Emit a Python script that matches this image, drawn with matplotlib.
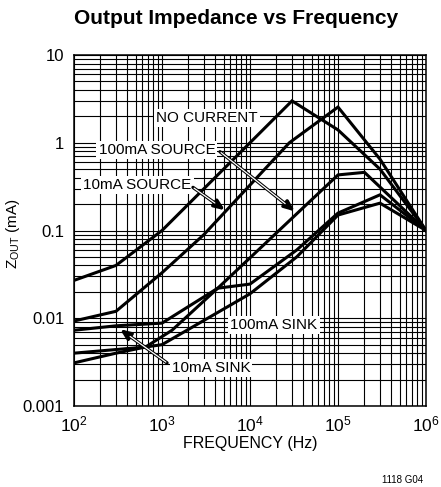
import matplotlib
matplotlib.use("Agg")
import matplotlib.pyplot as plt
from matplotlib import font_manager

# pick a narrow sans font if there is one
names = {f.name for f in font_manager.fontManager.ttflist}
font = "Liberation Sans Narrow" if "Liberation Sans Narrow" in names else "Liberation Sans"
plt.rcParams["font.family"] = [font, "DejaVu Sans"]
plt.rcParams["mathtext.fontset"] = "custom"
plt.rcParams["mathtext.rm"] = font
plt.rcParams["mathtext.it"] = font
plt.rcParams["mathtext.bf"] = font + ":bold"

# data (frequency in Hz, impedance)
freq_no_current = [100, 300, 1000, 30000, 100000, 300000, 1000000]
z_no_current = [0.027, 0.040, 0.10, 3.0, 1.4, 0.5, 0.1]

freq_10ma_source = [100, 300, 1000, 3000, 28000, 100000, 300000, 1000000]
z_10ma_source = [0.0093, 0.012, 0.033, 0.09, 1.0, 2.55, 0.65, 0.1]

freq_100ma_source = [100, 300, 650, 1300, 4300, 100000, 200000, 1000000]
z_100ma_source = [0.004, 0.0044, 0.0047, 0.0073, 0.022, 0.43, 0.46, 0.1]

freq_10ma_sink = [100, 300, 1000, 4300, 10000, 34000, 100000, 300000, 1000000]
z_10ma_sink = [0.0073, 0.0082, 0.0088, 0.022, 0.0245, 0.060, 0.158, 0.255, 0.1]

freq_100ma_sink = [100, 300, 650, 1000, 10000, 34000, 100000, 300000, 1000000]
z_100ma_sink = [0.0031, 0.004, 0.0047, 0.005, 0.019, 0.050, 0.15, 0.205, 0.1]

x_ticks = [1e2, 1e3, 1e4, 1e5, 1e6]
x_tick_labels = [r"$10^{2}$", r"$10^{3}$", r"$10^{4}$", r"$10^{5}$", r"$10^{6}$"]
y_ticks = [0.001, 0.01, 0.1, 1, 10]
y_tick_labels = ["0.001", "0.01", "0.1", "1", "10"]

fig = plt.figure(figsize=(4.41, 4.87), dpi=100)
ax = fig.add_axes([74 / 441, 1 - 406 / 487, 352 / 441, 351 / 487])

ax.set_xscale("log")
ax.set_yscale("log")
ax.set_xlim(1e2, 1e6)
ax.set_ylim(1e-3, 10)

ax.grid(True, which="both", color="black", lw=0.8)
ax.set_axisbelow(True)
for s in ax.spines.values():
    s.set_linewidth(1.1)

curves = [
    (freq_no_current, z_no_current),
    (freq_10ma_source, z_10ma_source),
    (freq_100ma_source, z_100ma_source),
    (freq_10ma_sink, z_10ma_sink),
    (freq_100ma_sink, z_100ma_sink),
]
for f, z in curves:
    ax.plot(f, z, color="black", lw=2.2, solid_joinstyle="miter", zorder=3)

ax.set_xticks(x_ticks)
ax.set_xticklabels(x_tick_labels, fontsize=12.5)
ax.set_yticks(y_ticks)
ax.set_yticklabels(y_tick_labels, fontsize=12)
ax.tick_params(which="both", length=0)
ax.tick_params(axis="y", pad=7)
ax.tick_params(axis="x", pad=6)

ax.set_xlabel("FREQUENCY (Hz)", fontsize=11.5, labelpad=1)
ax.set_ylabel(r"Z$_{\mathrm{OUT}}$ (mA)", fontsize=11)
ax.yaxis.set_label_coords(-0.148, 0.49)

box = dict(facecolor="white", edgecolor="none", pad=1.5)
lbl = 11
ax.text(3240, 1.91, "NO CURRENT", fontsize=lbl, ha="center", va="center", bbox=box, zorder=4)
ax.text(877, 0.83, "100mA SOURCE", fontsize=lbl, ha="center", va="center", bbox=box, zorder=4)
ax.text(526, 0.33, "10mA SOURCE", fontsize=lbl, ha="center", va="center", bbox=box, zorder=4)
ax.text(18700, 0.0084, "100mA SINK", fontsize=lbl, ha="center", va="center", bbox=box, zorder=4)
ax.text(3600, 0.0027, "10mA SINK", fontsize=lbl, ha="center", va="center", bbox=box, zorder=4)

# hollow-shaft arrows: black outline, white middle, black head
arrows = [
    ((4560, 0.79), (32400, 0.165)),
    ((2250, 0.31), (5200, 0.17)),
    ((1140, 0.0031), (333, 0.0075)),
]
for start, tip in arrows:
    ax.annotate("", xy=tip, xytext=start,
                arrowprops=dict(arrowstyle="-|>,head_length=0.6,head_width=0.25",
                                color="black", lw=2.4, shrinkA=0, shrinkB=0),
                zorder=5)
    ax.annotate("", xy=tip, xytext=start,
                arrowprops=dict(arrowstyle="-", color="white", lw=0.9,
                                shrinkA=1, shrinkB=9),
                zorder=6)

fig.text(236 / 441, 1 - 19 / 487, "Output Impedance vs Frequency",
         fontsize=15, fontweight="bold", ha="center", va="center")
fig.text(423 / 441, 1 - 480 / 487, "1118 G04", fontsize=7, ha="right", va="center")

fig.savefig("out.png", dpi=100)
